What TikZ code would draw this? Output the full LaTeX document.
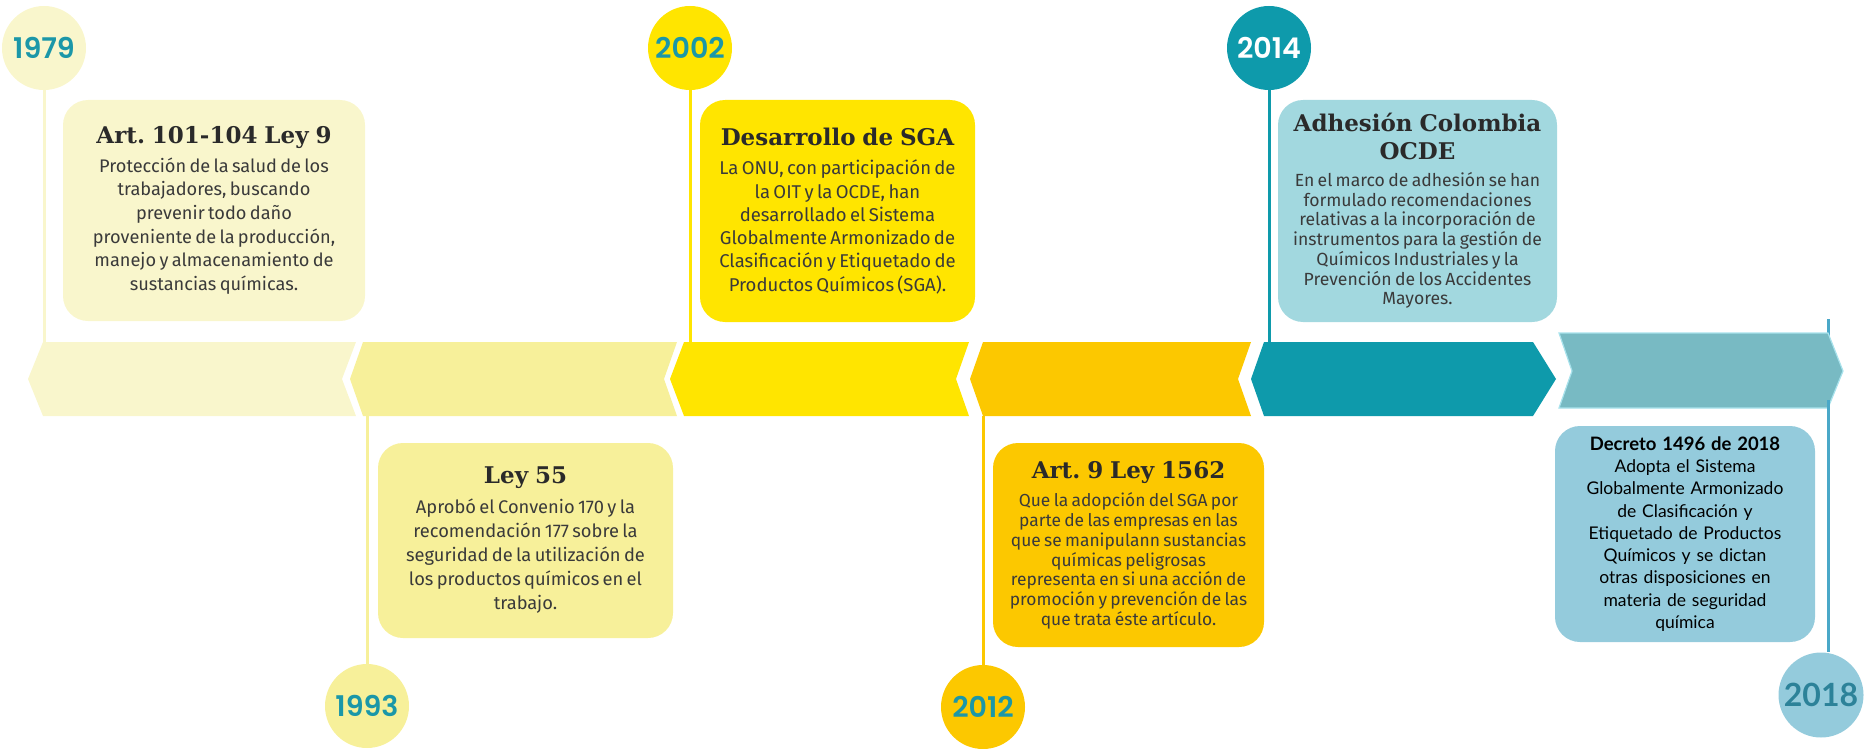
\documentclass[tikz,border=0pt]{standalone}
\usepackage{fontspec}
\setmainfont{Fira Sans}
\newfontfamily\slabfont{DejaVu Serif}
\newfontfamily\yearfont{Poppins SemiBold}
\newfontfamily\gillfont{Lato}
\definecolor{cA}{HTML}{F9F6CC}
\definecolor{cB}{HTML}{F7F09A}
\definecolor{cC}{HTML}{FFE500}
\definecolor{cD}{HTML}{FCC800}
\definecolor{cE}{HTML}{0E9AAB}
\definecolor{cEbox}{HTML}{A2D8DF}
\definecolor{cF}{HTML}{78BAC3}
\definecolor{cFedge}{HTML}{A8E2EC}
\definecolor{cFbox}{HTML}{94CBDC}
\definecolor{cFline}{HTML}{4AA8C8}
\definecolor{yeartxt}{HTML}{1B97A8}
\definecolor{year18}{HTML}{2C8299}
\definecolor{bodytxt}{HTML}{3A3A3A}
\definecolor{titletxt}{HTML}{2A2A2A}
\newcommand\boxtitle[1]{{\color{titletxt}\slabfont\bfseries\fontsize{23}{28}\selectfont\spaceskip=0.3em\xspaceskip=0.3em\relax #1\par}}
\newcommand\bodysize[2]{\fontsize{#1}{#2}\selectfont}
\begin{document}
\begin{tikzpicture}[x=1pt,y=-1pt,
  yearcirc/.style={circle, minimum size=84pt, inner sep=0pt, text=yeartxt,
    font=\yearfont\fontsize{28.5}{28.5}\selectfont},
  evbox/.style={rectangle, rounded corners=25pt, inner sep=0pt, align=center, text=bodytxt},
  conn/.style={line width=3pt}]
\useasboundingbox (0,0) rectangle (1865,749);

% year circles
\node[yearcirc, fill=cA] (y79) at (44,48) {1979};
\node[yearcirc, fill=cB] (y93) at (367,706) {1993};
\node[yearcirc, fill=cC] (y02) at (690,48) {2002};
\node[yearcirc, fill=cD] (y12) at (983,707) {2012};
\node[yearcirc, fill=cE, text=white] (y14) at (1269,48) {2014};
\node[yearcirc, fill=cFbox, text=year18, minimum size=85pt,
  font=\gillfont\bfseries\fontsize{32}{32}\selectfont] (y18) at (1821,695) {2018};

% connector end points on the band
\coordinate (t79) at (44,342);
\coordinate (t93) at (367,416);
\coordinate (t02) at (690,342);
\coordinate (t12) at (983,416);
\coordinate (t14) at (1269,342);
\coordinate (t18) at (1828,319);
\coordinate (u18) at (1828,400);

\draw[conn, cA] (y79) -- (t79);
\draw[conn, cB] (y93) -- (t93);
\draw[conn, cC] (y02) -- (t02);
\draw[conn, cD] (y12) -- (t12);
\draw[conn, cE] (y14) -- (t14);
\draw[conn, cFline] (t18) -- (t18 |- y18.north);

% chevron band
\fill[cA] (43,342) -- (356,342) -- (342,379) -- (356,416) -- (43,416) -- (28,379) -- cycle;
\fill[cB] (363,342) -- (677,342) -- (664,379) -- (677,416) -- (363,416) -- (350,379) -- cycle;
\fill[cC] (684,342) -- (969,342) -- (956,379) -- (969,416) -- (684,416) -- (670,379) -- cycle;
\fill[cD] (983,342) -- (1251,342) -- (1238,379) -- (1251,416) -- (983,416) -- (970,379) -- cycle;
\fill[cE] (1264,342) -- (1533,342) -- (1556,379) -- (1533,416) -- (1264,416) -- (1251,379) -- cycle;
\filldraw[fill=cF, draw=cFedge, line width=1.2pt] (1559,333) -- (1828,333) -- (1843,371) -- (1828,408) -- (1559,408) -- (1572,371) -- cycle;
\draw[conn, cFline] (u18) -- (u18 |- y18.north);

% event boxes
\node[evbox, fill=cA, minimum width=302pt, minimum height=221pt, text width=300pt] (b79) at (214,210.5)
 {\boxtitle{Art. 101-104 Ley 9}\vspace{5pt}\bodysize{18.2}{23.6}Protección de la salud de los\\ trabajadores, buscando\\ prevenir todo daño\\ proveniente de la producción,\\ manejo y almacenamiento de\\ sustancias químicas.\par};
\node[evbox, fill=cB, minimum width=295pt, minimum height=195pt, text width=293pt] (b93) at (525.5,540.5)
 {\boxtitle{Ley 55}\vspace{6pt}\bodysize{18.3}{24}Aprobó el Convenio 170 y la\\ recomendación 177 sobre la\\ seguridad de la utilización de\\ los productos químicos en el\\ trabajo.\par};
\node[evbox, fill=cC, minimum width=275pt, minimum height=222pt, text width=273pt] (b02) at (837.5,211)
 {\boxtitle{Desarrollo de SGA}\vspace{6pt}\bodysize{18.5}{23.3}La ONU, con participación de\\ la OIT y la OCDE, han\\ desarrollado el Sistema\\ Globalmente Armonizado de\\ Clasificación y Etiquetado de\\ Productos Químicos (SGA).\par};
\node[evbox, fill=cD, minimum width=271pt, minimum height=204pt, text width=269pt] (b12) at (1128.5,545)
 {\boxtitle{Art. 9 Ley 1562}\vspace{9pt}\bodysize{17.4}{19.7}Que la adopción del SGA por\\ parte de las empresas en las\\ que se manipulann sustancias\\ químicas peligrosas\\ representa en si una acción de\\ promoción y prevención de las\\ que trata éste artículo.\par};
\node[evbox, fill=cEbox, minimum width=279pt, minimum height=222pt, text width=277pt] (b14) at (1417.5,211)
 {\boxtitle{Adhesión Colombia\\ OCDE}\vspace{7pt}\bodysize{17.6}{19.7}En el marco de adhesión se han\\ formulado recomendaciones\\ relativas a la incorporación de\\ instrumentos para la gestión de\\ Químicos Industriales y la\\ Prevención de los Accidentes\\ Mayores.\par};
\node[evbox, fill=cFbox, text=black, minimum width=260pt, minimum height=216pt, text width=258pt,
  font=\gillfont\fontsize{17.5}{22.3}\selectfont] (b18) at (1685,534)
 {{\fontsize{18.5}{22.3}\selectfont\bfseries Decreto 1496 de 2018}\\ Adopta el Sistema\\ Globalmente Armonizado\\ de Clasificación y\\ Etiquetado de Productos\\ Químicos y se dictan\\ otras disposiciones en\\ materia de seguridad\\ química\par};
\end{tikzpicture}
\end{document}
